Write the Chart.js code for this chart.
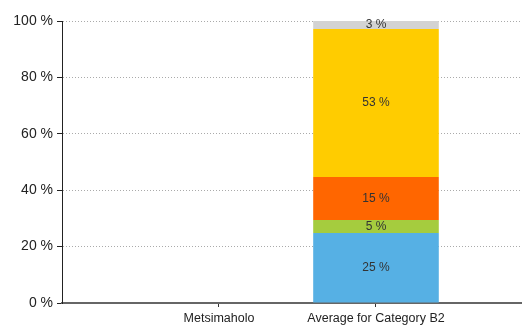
<!DOCTYPE html>
<html>
<head>
<meta charset="utf-8">
<script src="https://cdn.jsdelivr.net/npm/chart.js@4/dist/chart.umd.min.js"></script>
<style>
  body { margin: 0; background: #fff; }
  #wrap { width: 522px; height: 327px; }
</style>
</head>
<body>
<div id="wrap"><canvas id="myChart"></canvas></div>
<script>
// categories on the x axis
const categories = ['Metsimaholo', 'Average for Category B2'];
// y axis ticks
const yTicks = [0, 20, 40, 60, 80, 100];

// share of each band, per category (null = no bar)
const band1 = [null, 24.8];
const band2 = [null, 4.6];
const band3 = [null, 15.3];
const band4 = [null, 52.5];
const band5 = [null, 2.8];

const bandColors = ['#56B0E4', '#A5CC3E', '#FF6600', '#FFCC00', '#D3D3D3'];

// categories sit at x = 1, 2 on a linear axis so the spacing matches the original
const toPoints = arr => arr.map((v, i) => ({ x: i + 1, y: v }));

const barLabels = {
  id: 'barLabels',
  afterDatasetsDraw(chart) {
    const ctx = chart.ctx;
    ctx.save();
    ctx.font = '12px "Liberation Sans", Arial, sans-serif';
    ctx.fillStyle = '#333';
    ctx.textAlign = 'center';
    ctx.textBaseline = 'middle';
    chart.data.datasets.forEach((ds, di) => {
      const meta = chart.getDatasetMeta(di);
      meta.data.forEach((bar, i) => {
        const v = ds.data[i].y;
        if (v == null) return;
        const p = bar.getProps(['x', 'y', 'base'], true);
        ctx.fillText(Math.round(v) + ' %', p.x, (p.y + p.base) / 2);
      });
    });
    ctx.restore();
  }
};

const ctx = document.getElementById('myChart').getContext('2d');
const chart = new Chart(ctx, {
  type: 'bar',
  data: {
    datasets: [band1, band2, band3, band4, band5].map((b, i) => ({
      data: toPoints(b),
      backgroundColor: bandColors[i],
      borderWidth: 0,
      barPercentage: 1.0,
      categoryPercentage: 0.8
    }))
  },
  options: {
    responsive: true,
    maintainAspectRatio: false,
    animation: false,
    layout: { padding: { top: 21, right: 0, bottom: 0, left: 0 } },
    plugins: { legend: { display: false }, tooltip: { enabled: false } },
    scales: {
      x: {
        type: 'linear',
        stacked: true,
        offset: false,
        min: 0,
        max: 2.93,
        afterBuildTicks: axis => {
          axis.ticks = categories.map((c, i) => ({ value: i + 1 }));
        },
        afterFit: scale => { scale.height = 24; },
        ticks: {
          autoSkip: false,
          maxRotation: 0,
          padding: 4,
          color: '#222',
          font: { family: '"Liberation Sans", Arial, sans-serif', size: 12.5 },
          callback: v => categories[v - 1] || ''
        },
        grid: { offset: false, drawOnChartArea: false, tickLength: 4, tickColor: '#333' },
        border: { color: '#666', width: 2 }
      },
      y: {
        stacked: true,
        min: 0,
        max: 100,
        afterBuildTicks: axis => {
          axis.ticks = yTicks.map(v => ({ value: v }));
        },
        afterFit: scale => { scale.width = 62; },
        ticks: {
          padding: 4,
          color: '#222',
          font: { family: '"Liberation Sans", Arial, sans-serif', size: 14 },
          callback: v => v + ' %'
        },
        grid: { color: '#aaa', tickLength: 5, tickColor: '#222' },
        border: { color: '#222', width: 1, dash: [1, 2] }
      }
    }
  },
  plugins: [barLabels]
});
</script>
</body>
</html>
